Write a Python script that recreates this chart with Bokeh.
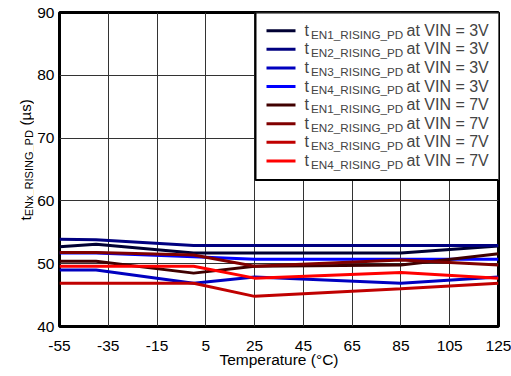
import math
from bokeh.plotting import figure
from bokeh.layouts import row
from bokeh.models import FixedTicker, BoxAnnotation, Label, Range1d, PrintfTickFormatter
from bokeh.embed import file_html
from bokeh.resources import INLINE

# ---- data ----
temps = [-55, -40, 0, 25, 85, 125]
en1_3v = [52.7, 53.1, 51.7, 51.7, 51.7, 52.8]
en2_3v = [53.9, 53.8, 52.9, 52.9, 52.9, 52.9]
en3_3v = [49.0, 49.0, 46.9, 47.9, 46.9, 47.9]
en4_3v = [51.7, 51.7, 51.1, 50.7, 50.7, 50.7]
en1_7v = [50.4, 50.4, 48.5, 49.6, 49.8, 51.6]
en2_7v = [51.8, 51.8, 51.4, 49.6, 50.6, 49.8]
en3_7v = [46.9, 46.9, 46.9, 44.8, 46.0, 46.9]
en4_7v = [49.6, 49.6, 49.6, 47.7, 48.6, 47.7]

series = [
    ("EN1", "3V", en1_3v, "#000033"),
    ("EN2", "3V", en2_3v, "#000080"),
    ("EN3", "3V", en3_3v, "#0000c0"),
    ("EN4", "3V", en4_3v, "#0000ff"),
    ("EN1", "7V", en1_7v, "#400000"),
    ("EN2", "7V", en2_7v, "#800000"),
    ("EN3", "7V", en3_7v, "#c00000"),
    ("EN4", "7V", en4_7v, "#ff0000"),
]

x_ticks = [-55, -35, -15, 5, 25, 45, 65, 85, 105, 125]
y_ticks = [40, 50, 60, 70, 80, 90]

FONT = "Liberation Sans"
FRAME_H = 314
BORDER_TOP = 12
BORDER_BOTTOM = 50
TITLE_W = 34
BASE_SHIFT = 0.4   # measured: rendered baseline sits ~0.4em past the anchor

# ---- main plot ----
p = figure(frame_width=439, frame_height=FRAME_H, output_backend="svg", toolbar_location=None,
           x_range=Range1d(-55, 125), y_range=Range1d(40, 90))
p.min_border_left = 24
p.min_border_right = 14
p.min_border_top = BORDER_TOP
p.min_border_bottom = BORDER_BOTTOM
p.background_fill_color = "white"
p.border_fill_color = "white"
p.outline_line_color = "black"
p.outline_line_width = 3

p.xaxis.ticker = FixedTicker(ticks=x_ticks)
p.yaxis.ticker = FixedTicker(ticks=y_ticks)
for ax in (p.xaxis[0], p.yaxis[0]):
    ax.axis_line_color = None
    ax.major_tick_line_color = None
    ax.minor_tick_line_color = None
    ax.major_tick_out = 0
    ax.major_tick_in = 0
    ax.minor_tick_out = 0
    ax.minor_tick_in = 0
    ax.formatter = PrintfTickFormatter(format="%d")
    ax.major_label_text_font = FONT
    ax.major_label_text_font_size = "15.5px"
    ax.major_label_text_color = "black"
p.xaxis.major_label_standoff = 14
p.yaxis.major_label_standoff = 5
p.xaxis.axis_label = "Temperature (°C)"
p.xaxis.axis_label_text_font = FONT
p.xaxis.axis_label_text_font_size = "15.5px"
p.xaxis.axis_label_text_font_style = "normal"
p.xaxis.axis_label_text_color = "black"
p.xaxis.axis_label_standoff = -3

p.xgrid.grid_line_color = "#333333"
p.ygrid.grid_line_color = "#333333"
p.xgrid.grid_line_width = 1
p.ygrid.grid_line_width = 1

for en, vin, vals, col in series:
    p.line(temps, vals, line_color=col, line_width=3)

# ---- custom legend (screen units relative to frame) ----
p.add_layout(BoxAnnotation(left=196, right=440, bottom=146.5, top=314,
                           left_units="screen", right_units="screen",
                           bottom_units="screen", top_units="screen",
                           fill_color="white", fill_alpha=1.0,
                           line_color="black", line_width=2, line_alpha=1.0))
row0 = 295.8
step = 18.6
MAIN_FS = 16
SUB_FS = 11.7
for i, (en, vin, vals, col) in enumerate(series):
    yc = row0 - i * step
    p.add_layout(BoxAnnotation(left=207, right=236, bottom=yc - 1.5, top=yc + 1.5,
                               left_units="screen", right_units="screen",
                               bottom_units="screen", top_units="screen",
                               fill_color=col, fill_alpha=1.0, line_color=None))
    main_y = yc - 6 + BASE_SHIFT * MAIN_FS
    sub_y = yc - 8 + BASE_SHIFT * SUB_FS
    p.add_layout(Label(x=245, y=main_y, x_units="screen", y_units="screen",
                       text="t", text_font=FONT, text_font_size=f"{MAIN_FS}px",
                       text_baseline="alphabetic", text_align="left"))
    p.add_layout(Label(x=251.5, y=sub_y, x_units="screen", y_units="screen",
                       text=f"{en}_RISING_PD", text_font=FONT, text_font_size=f"{SUB_FS}px",
                       text_baseline="alphabetic", text_align="left"))
    p.add_layout(Label(x=347, y=main_y, x_units="screen", y_units="screen",
                       text=f"at VIN = {vin}", text_font=FONT, text_font_size=f"{MAIN_FS}px",
                       text_baseline="alphabetic", text_align="left"))

# ---- y-axis title with subscript, in a narrow side figure aligned with the frame ----
t = figure(frame_width=TITLE_W, frame_height=FRAME_H, output_backend="svg",
           toolbar_location=None, x_range=Range1d(0, 1), y_range=Range1d(0, 1),
           x_axis_type=None, y_axis_type=None)
t.min_border_left = 0
t.min_border_right = 0
t.min_border_top = BORDER_TOP
t.min_border_bottom = BORDER_BOTTOM
t.outline_line_color = None
t.xgrid.visible = False
t.ygrid.visible = False
t.background_fill_color = "white"
t.border_fill_color = "white"
ang = math.pi / 2
T_MAIN = 15
T_SUB = 11
y0 = 106          # frame-relative start (bottom) of the title text
t.add_layout(Label(x=31 - BASE_SHIFT * T_MAIN, y=y0, x_units="screen", y_units="screen",
                   angle=ang, text="t", text_font=FONT, text_font_size=f"{T_MAIN}px",
                   text_baseline="alphabetic", text_align="left", text_color="black"))
t.add_layout(Label(x=33 - BASE_SHIFT * T_SUB, y=y0 + 4.2, x_units="screen", y_units="screen",
                   angle=ang, text="ENx_RISING_PD", text_font=FONT,
                   text_font_size=f"{T_SUB}px",
                   text_baseline="alphabetic", text_align="left", text_color="black"))
t.add_layout(Label(x=31 - BASE_SHIFT * T_MAIN, y=y0 + 95.0, x_units="screen", y_units="screen",
                   angle=ang, text="(µs)", text_font=FONT, text_font_size=f"{T_MAIN}px",
                   text_baseline="alphabetic", text_align="left", text_color="black"))

layout = row(t, p)
open("out.html", "w").write(file_html(layout, INLINE))
